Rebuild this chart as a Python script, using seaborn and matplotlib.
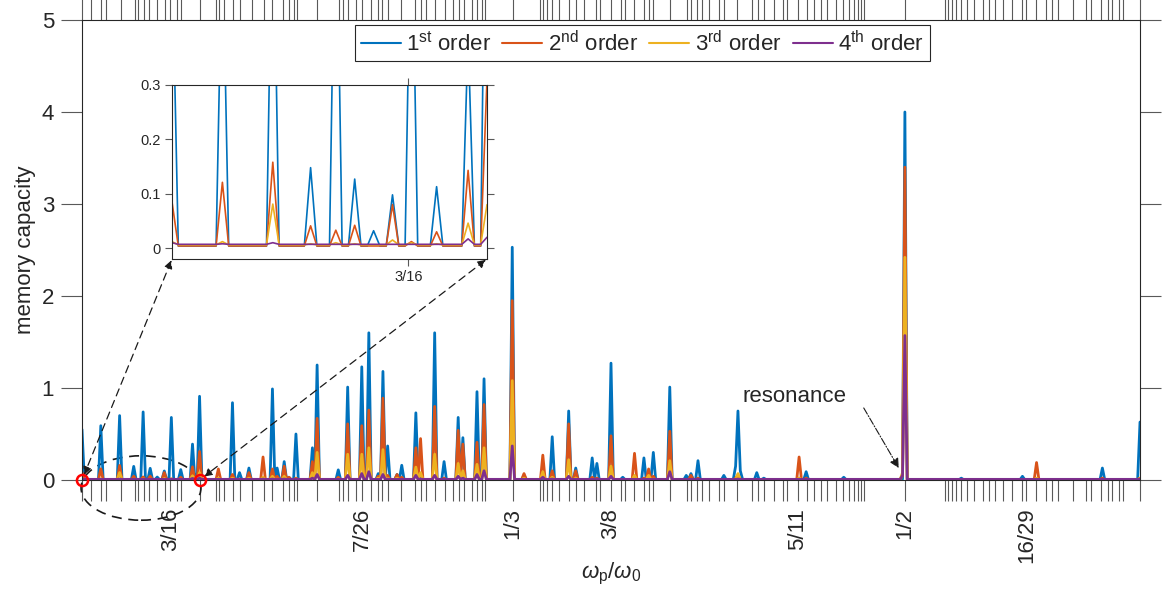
import numpy as np
import pandas as pd
import matplotlib
matplotlib.use('Agg')
import matplotlib.pyplot as plt
import seaborn as sns
from matplotlib.patches import Ellipse
from matplotlib.lines import Line2D
from fractions import Fraction

# ---------------- style ----------------
sns.set_theme(style='white')
plt.rcParams['font.family'] = ['Liberation Sans', 'DejaVu Sans']
plt.rcParams['mathtext.fontset'] = 'custom'
plt.rcParams['mathtext.rm'] = 'Liberation Sans'
plt.rcParams['mathtext.it'] = 'Liberation Sans:italic'
plt.rcParams['mathtext.bf'] = 'Liberation Sans:bold'

# ---------------- data ----------------
# sampling grid of the pump frequency ratio
omega_start, omega_step, n_pts = 0.15, 0.001, 451

# positions of the visible peaks (omega_p / omega_0)
peak_omega = [0.150, 0.158, 0.166, 0.172, 0.176, 0.179, 0.182, 0.185, 0.188, 0.192,
              0.197, 0.200, 0.208, 0.214, 0.217, 0.221, 0.227, 0.231, 0.233, 0.236,
              0.238, 0.241, 0.248, 0.250, 0.259, 0.263, 0.269, 0.272, 0.276, 0.278,
              0.280, 0.284, 0.286, 0.292, 0.294, 0.300, 0.304, 0.310, 0.312, 0.318,
              0.321, 0.333, 0.338, 0.346, 0.350, 0.357, 0.360, 0.367, 0.369, 0.375,
              0.380, 0.385, 0.389, 0.391, 0.393, 0.400, 0.407, 0.409, 0.412, 0.423,
              0.428, 0.429, 0.430, 0.437, 0.440, 0.455, 0.458, 0.474, 0.499, 0.500,
              0.524, 0.550, 0.556, 0.584, 0.600]

mc_1st = [0.55, 0.59, 0.70, 0.148, 0.74, 0.127, 0.032, 0.098, 0.68, 0.113,
          0.39, 0.91, 0.02, 0.84, 0.08, 0.13, 0.02, 0.99, 0.13, 0.20,
          0.03, 0.50, 0.35, 1.25, 0.11, 1.01, 1.23, 1.60, 0.07, 1.18,
          0.37, 0.06, 0.16, 0.73, 0.02, 1.60, 0.20, 0.68, 0.46, 0.96,
          1.10, 2.53, 0.05, 0.02, 0.47, 0.75, 0.13, 0.24, 0.18, 1.27,
          0.03, 0.02, 0.24, 0.02, 0.30, 1.01, 0.05, 0.07, 0.21, 0.05,
          0.15, 0.75, 0.10, 0.08, 0.02, 0.02, 0.09, 0.03, 0.01, 4.00,
          0.02, 0.04, 0.01, 0.13, 0.63]

mc_2nd = [0.085, 0.121, 0.158, 0.041, 0.033, 0.042, 0, 0.080, 0.012, 0.030,
          0.143, 0.31, 0.12, 0.06, 0.01, 0.08, 0.25, 0.12, 0.04, 0.15,
          0.03, 0.02, 0.20, 0.67, 0.03, 0.61, 0.59, 0.76, 0.04, 0.89,
          0.05, 0.06, 0.03, 0.35, 0.45, 0.80, 0.02, 0.54, 0.39, 0.41,
          0.82, 1.95, 0.07, 0.27, 0.10, 0.61, 0.10, 0.03, 0.02, 0.48,
          0, 0.29, 0.02, 0.12, 0.04, 0.53, 0, 0.05, 0.02, 0,
          0.02, 0.05, 0, 0, 0, 0.25, 0.02, 0, 0.05, 3.40,
          0, 0, 0.19, 0.02, 0.02]

mc_3rd = [0.012, 0.012, 0.081, 0.008, 0.010, 0.008, 0, 0.015, 0.010, 0.008,
          0.046, 0.08, 0.02, 0.02, 0, 0.02, 0.03, 0.04, 0.01, 0.04,
          0, 0.01, 0.08, 0.30, 0.01, 0.28, 0.28, 0.35, 0.02, 0.33,
          0.02, 0.02, 0, 0.14, 0.08, 0.28, 0, 0.18, 0.10, 0.17,
          0.35, 1.08, 0.02, 0.09, 0.03, 0.22, 0.02, 0, 0, 0.15,
          0, 0.05, 0, 0.05, 0.01, 0.21, 0, 0, 0, 0,
          0, 0.07, 0, 0, 0, 0.02, 0, 0, 0.08, 2.42,
          0, 0, 0.02, 0, 0.02]

mc_4th = [0.010, 0.008, 0.010, 0, 0, 0, 0, 0, 0, 0,
          0.017, 0.020, 0, 0.008, 0, 0.008, 0.010, 0.010, 0, 0.010,
          0, 0, 0.020, 0.060, 0, 0.050, 0.070, 0.090, 0, 0.060,
          0.010, 0, 0, 0.050, 0.010, 0.050, 0, 0.040, 0.020, 0.060,
          0.100, 0.370, 0, 0.030, 0.010, 0.040, 0, 0, 0, 0.040,
          0, 0, 0, 0, 0, 0.090, 0, 0, 0, 0,
          0, 0.010, 0, 0, 0, 0, 0, 0, 0.050, 1.570,
          0, 0, 0, 0, 0.010]

# floor level between the peaks
floor_1st, floor_2nd, floor_3rd, floor_4th = 0.004, 0.004, 0.006, 0.007

order_names = ['1st', '2nd', '3rd', '4th']
legend_labels = [r'1$^{\mathrm{st}}$ order', r'2$^{\mathrm{nd}}$ order',
                 r'3$^{\mathrm{rd}}$ order', r'4$^{\mathrm{th}}$ order']
colors = ['#0072BD', '#D95319', '#EDB120', '#7E2F8E']

# labelled resonances on the x axis
label_fracs = [Fraction(3, 16), Fraction(7, 26), Fraction(1, 3), Fraction(3, 8),
               Fraction(5, 11), Fraction(1, 2), Fraction(16, 29)]
max_den = 29

# ---------------- build table ----------------
omega = np.round(omega_start + omega_step * np.arange(n_pts), 4)
idx = np.rint((np.array(peak_omega) - omega_start) / omega_step).astype(int)

frames = []
for name, vals, floor in zip(order_names, [mc_1st, mc_2nd, mc_3rd, mc_4th],
                             [floor_1st, floor_2nd, floor_3rd, floor_4th]):
    y = np.full(n_pts, floor)
    y[idx] = np.maximum(np.array(vals), floor)
    frames.append(pd.DataFrame({'omega': omega, 'mc': y, 'order': name}))
df = pd.concat(frames, ignore_index=True)

# ---------------- figure ----------------
W, H = 1166, 597
fig = plt.figure(figsize=(W / 100, H / 100), dpi=100)
ax = fig.add_axes([82 / W, 1 - 480 / H, (1140 - 82) / W, 460 / H])

sns.lineplot(data=df, x='omega', y='mc', hue='order', hue_order=order_names,
             palette=colors, estimator=None, lw=2.0, legend=False, ax=ax)

ax.set_xlim(0.15, 0.6)
ax.set_ylim(0, 5)
ax.set_yticks(range(6))

# ticks at every rational p/q (q <= 29) in range
tick_fracs = sorted({Fraction(p, q) for q in range(1, max_den + 1)
                     for p in range(q + 1) if 0.15 <= p / q <= 0.6})
ax.set_xticks([float(f) for f in tick_fracs])
ax.set_xticklabels([f'{f.numerator}/{f.denominator}' if f in label_fracs else ''
                    for f in tick_fracs], rotation=90)

ax.tick_params(axis='both', which='major', direction='out', length=15, width=0.8,
               color='0.35', labelsize=16, labelcolor='0.15', top=True, right=True,
               bottom=True, left=True, pad=5)
for s in ax.spines.values():
    s.set_color('0.15')
    s.set_linewidth(0.8)

ax.set_xlabel(r'$\omega_{\mathrm{p}}/\omega_{\mathrm{0}}$', fontsize=16, color='0.15')
ax.xaxis.set_label_coords(0.5, -0.175)
ax.set_ylabel('memory capacity', fontsize=16, color='0.15', labelpad=4)

handles = [Line2D([], [], color=c, lw=1.5) for c in colors]
leg = ax.legend(handles, legend_labels, loc='upper center',
                bbox_to_anchor=(642.5 / W, 1 - 25 / H), bbox_transform=fig.transFigure,
                ncol=4, fontsize=16, frameon=True, fancybox=False, framealpha=1,
                edgecolor='0.15', handlelength=1.8, handletextpad=0.25,
                columnspacing=0.5, borderpad=0.25, borderaxespad=0)
leg.get_frame().set_linewidth(0.8)

# zoom marks
ax.plot([0.15, 0.2], [0, 0], 'o', ms=8, mfc='none', mec='red', mew=1.8,
        clip_on=False, zorder=10)
ax.add_patch(Ellipse((0.1751, -0.087), width=0.051, height=0.70, fill=False,
                     ec='k', lw=1.2, ls=(0, (6, 4)), clip_on=False))

# resonance annotation
ax.text(0.4532, 0.913, 'resonance', fontsize=16, ha='center', va='center')
ax.annotate('', xy=(0.4974, 0.13), xytext=(0.4825, 0.783),
            arrowprops=dict(arrowstyle='-|>', ls='-.', lw=0.8, color='k',
                            shrinkA=0, shrinkB=0, mutation_scale=14))

# ---------------- inset ----------------
axin = fig.add_axes([172 / W, 1 - 259 / H, 315 / W, 174 / H])
sns.lineplot(data=df, x='omega', y='mc', hue='order', hue_order=order_names,
             palette=colors, estimator=None, lw=1.2, legend=False, ax=axin)
axin.set_xlim(0.15, 0.2)
axin.set_ylim(-0.02, 0.3)
axin.set_yticks([0, 0.1, 0.2, 0.3])
axin.set_yticklabels(['0', '0.1', '0.2', '0.3'])
axin.set_xticks([3 / 16])
axin.set_xticklabels(['3/16'])
axin.set_xlabel('')
axin.set_ylabel('')
axin.tick_params(axis='both', direction='out', length=5, width=0.8, color='0.35',
                 labelsize=10.5, labelcolor='0.15', top=True, right=True,
                 bottom=True, left=True, pad=3)
for s in axin.spines.values():
    s.set_color('0.15')
    s.set_linewidth(0.8)

# dashed double arrows from the zoom marks to the inset corners
for xd, xa in [(0.15, 0.0), (0.2, 1.0)]:
    ax.annotate('', xy=(xd, 0), xycoords='data', xytext=(xa, 0),
                textcoords=axin.transAxes, annotation_clip=False,
                arrowprops=dict(arrowstyle='<|-|>', ls=(0, (6, 4)), lw=0.9,
                                color='k', shrinkA=1, shrinkB=4, mutation_scale=12))

fig.savefig('out.png', dpi=100)
